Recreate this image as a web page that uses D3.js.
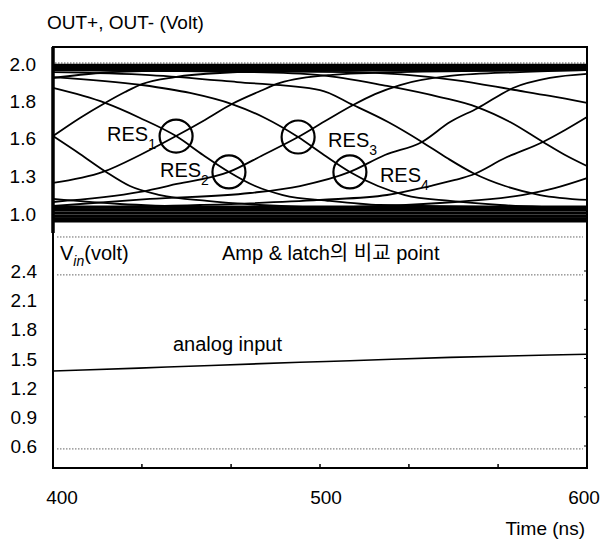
<!DOCTYPE html>
<html>
<head>
<meta charset="utf-8">
<script src="https://cdn.jsdelivr.net/npm/d3@7"></script>
<style>
  body { margin: 0; background: #fff; }
  svg { display: block; font-family: "Liberation Sans", Arial, "Noto Sans CJK KR", sans-serif; }
</style>
</head>
<body>
<svg id="chart" width="601" height="545"></svg>
<script>
// time axis (ns)
const timeDomain = [400, 600]
const timeTicks = [400, 500, 600]
const timeMinorTicks = [433.3, 466.7, 500, 533.3, 566.7]

// upper panel: OUT+, OUT- (Volt)
const outTicks = [2.0, 1.8, 1.6, 1.3, 1.0]
const outTickLabels = ['2.0', '1.8', '1.6', '1.3', '1.0']

// lower panel: Vin (volt)
const vinTicks = [2.4, 2.1, 1.8, 1.5, 1.2, 0.9, 0.6]
const vinTickLabels = ['2.4', '2.1', '1.8', '1.5', '1.2', '0.9', '0.6']

// falling output traces, [ns, volt]
const fallingTraces = [
    [[400, 1.111], [425.1, 1.071], [455.1, 1.047], [511.2, 1.032], [600, 1.024]],
    [[400, 1.605], [410.1, 1.466], [419.9, 1.324], [428.8, 1.213], [440.1, 1.142], [457.7, 1.095], [477.5, 1.063], [511.2, 1.039], [600, 1.032]],
    [[400, 1.865], [419.5, 1.784], [432.6, 1.703], [446.1, 1.605], [456.2, 1.458], [465.9, 1.324], [475.7, 1.213], [486.1, 1.142], [503.7, 1.095], [522.5, 1.063], [600, 1.039]],
    [[400, 1.924], [433.3, 1.881], [451.3, 1.838], [467.0, 1.778], [479.4, 1.703], [491.8, 1.600], [501.5, 1.458], [511.2, 1.324], [521.7, 1.213], [531.8, 1.142], [548.7, 1.095], [567.4, 1.063], [600, 1.039]],
    [[400, 1.951], [436.3, 1.935], [468.9, 1.897], [500, 1.854], [512.4, 1.773], [525.5, 1.681], [538.2, 1.561], [547.6, 1.434], [557.3, 1.316], [569.3, 1.213], [582.4, 1.142], [600, 1.103]],
    [[400, 1.962], [473.8, 1.951], [500, 1.935], [525.1, 1.876], [544.9, 1.816], [558.8, 1.762], [571.2, 1.681], [583.5, 1.561], [591.8, 1.458], [600, 1.371]],
    [[400, 1.962], [511.2, 1.951], [550.6, 1.908], [573.0, 1.854], [586.1, 1.822], [600, 1.784]]
]

// rising output traces, [ns, volt]
const risingTraces = [
    [[400, 1.919], [417.6, 1.946], [440.1, 1.957], [492.5, 1.962], [600, 1.968]],
    [[400, 1.605], [410.1, 1.703], [419.5, 1.784], [427.0, 1.843], [433.3, 1.886], [445.7, 1.924], [462.5, 1.946], [492.5, 1.957], [600, 1.962]],
    [[400, 1.237], [418.7, 1.324], [432.6, 1.458], [446.1, 1.605], [456.9, 1.692], [467.0, 1.778], [476.8, 1.843], [485.0, 1.892], [503.7, 1.935], [530.0, 1.951], [600, 1.962]],
    [[400, 1.087], [432.6, 1.166], [446.4, 1.229], [465.9, 1.324], [478.7, 1.458], [491.8, 1.600], [502.6, 1.692], [512.4, 1.773], [520.6, 1.832], [530.0, 1.881], [548.7, 1.930], [574.9, 1.951], [600, 1.962]],
    [[400, 1.055], [436.3, 1.111], [473.8, 1.158], [492.5, 1.213], [511.2, 1.324], [524.3, 1.458], [538.2, 1.561], [548.7, 1.681], [559.2, 1.757], [572.3, 1.865], [586.1, 1.919], [600, 1.941]],
    [[400, 1.039], [455.1, 1.063], [500, 1.103], [525.1, 1.142], [541.2, 1.213], [550.6, 1.261], [556.9, 1.300], [569.3, 1.434], [583.5, 1.561], [591.8, 1.638], [600, 1.708]],
    [[400, 1.024], [492.5, 1.039], [550.6, 1.087], [575.7, 1.142], [587.9, 1.197], [600, 1.276]]
]

// settled outputs piling up at the rails
const topRail = [1.989, 1.978, 1.968]
const bottomRail = [1.047, 1.024, 1.0, 0.976, 0.953, 0.937]
const outRefLine = 2.0

// resolution points
const resNames = ['1', '2', '3', '4']
const resTimes = [446.1, 465.9, 491.8, 511.2]
const resVolts = [1.605, 1.324, 1.600, 1.324]

// analog input and comparison levels
const analogInput = [[400, 1.371], [411.2, 1.381], [442.7, 1.412], [492.5, 1.461], [511.2, 1.477], [548.7, 1.512], [586.1, 1.536], [600, 1.543]]
const vinRefLines = [2.75, 2.36, 0.57]

const svg = d3.select('#chart')

const frame = { left: 53, right: 587, top: 47, bottom: 468, split: 225 }

const x = d3.scaleLinear().domain(timeDomain).range([frame.left, frame.right])
const yOut = d3.scaleLinear().domain([1.0, 1.3, 1.6, 1.8, 2.0]).range([213, 175, 137, 100, 63])
const yIn = d3.scaleLinear().domain([0.6, 2.4]).range([446, 271])

const outLine = d3.line().x(d => x(d[0])).y(d => yOut(d[1])).curve(d3.curveMonotoneX)
const inLine = d3.line().x(d => x(d[0])).y(d => yIn(d[1])).curve(d3.curveMonotoneX)

// dotted reference lines
svg.append('line')
    .attr('x1', x(400) + 2).attr('x2', x(600) - 2)
    .attr('y1', yOut(outRefLine)).attr('y2', yOut(outRefLine))
    .attr('stroke', '#555').attr('stroke-width', 1).attr('stroke-dasharray', '1.5,1.5')

svg.selectAll('.vref').data(vinRefLines).join('line')
    .attr('class', 'vref')
    .attr('x1', x(400) + 4).attr('x2', x(600) - 4)
    .attr('y1', d => yIn(d)).attr('y2', d => yIn(d))
    .attr('stroke', '#666').attr('stroke-width', 1).attr('stroke-dasharray', '1.5,1.5')

// rails
const railPts = v => [[timeDomain[0], v], [timeDomain[1], v]]
svg.selectAll('.rail-top').data(topRail).join('path')
    .attr('class', 'rail-top')
    .attr('d', d => outLine(railPts(d)))
    .attr('fill', 'none').attr('stroke', '#000').attr('stroke-width', 2.5)

svg.selectAll('.rail-bottom').data(bottomRail).join('path')
    .attr('class', 'rail-bottom')
    .attr('d', d => outLine(railPts(d)))
    .attr('fill', 'none').attr('stroke', '#000').attr('stroke-width', 3.2)

// output traces
svg.selectAll('.fall').data(fallingTraces).join('path')
    .attr('class', 'fall')
    .attr('d', outLine)
    .attr('fill', 'none').attr('stroke', '#000').attr('stroke-width', 1.8)

svg.selectAll('.rise').data(risingTraces).join('path')
    .attr('class', 'rise')
    .attr('d', outLine)
    .attr('fill', 'none').attr('stroke', '#000').attr('stroke-width', 1.8)

// RES circles and labels
const res = resNames.map((n, i) => ({ n, t: resTimes[i], v: resVolts[i] }))

svg.selectAll('.res-circle').data(res).join('circle')
    .attr('class', 'res-circle')
    .attr('cx', d => x(d.t)).attr('cy', d => yOut(d.v))
    .attr('r', 16.5)
    .attr('fill', 'none').attr('stroke', '#000').attr('stroke-width', 2.2)

const resLabel = svg.selectAll('.res-label').data(res).join('text')
    .attr('class', 'res-label')
    .attr('x', (d, i) => i < 2 ? x(d.t) - 69 : x(d.t) + 30)
    .attr('y', (d, i) => yOut(d.v) + (i < 2 ? 5 : 10))
    .attr('font-size', 20)
    .text('RES')
resLabel.append('tspan')
    .attr('font-size', 14)
    .attr('dy', 8)
    .text(d => d.n)

// analog input
svg.append('path')
    .attr('d', inLine(analogInput))
    .attr('fill', 'none').attr('stroke', '#000').attr('stroke-width', 1.6)

// frame
svg.append('rect')
    .attr('x', frame.left).attr('y', frame.top)
    .attr('width', frame.right - frame.left).attr('height', frame.bottom - frame.top)
    .attr('fill', 'none').attr('stroke', '#000').attr('stroke-width', 2)
svg.append('line')
    .attr('x1', frame.left).attr('x2', frame.left).attr('y1', frame.top).attr('y2', frame.split + 8)
    .attr('stroke', '#000').attr('stroke-width', 3.5)

// bottom axis minor ticks
svg.selectAll('.xtick').data(timeMinorTicks).join('line')
    .attr('class', 'xtick')
    .attr('x1', d => x(d)).attr('x2', d => x(d))
    .attr('y1', frame.bottom).attr('y2', frame.bottom - 4)
    .attr('stroke', '#000').attr('stroke-width', 1.5)

// right side inner ticks on lower panel
svg.selectAll('.rtick').data(vinTicks).join('line')
    .attr('class', 'rtick')
    .attr('x1', frame.right).attr('x2', frame.right - 3)
    .attr('y1', d => yIn(d)).attr('y2', d => yIn(d))
    .attr('stroke', '#000').attr('stroke-width', 1)

// tick labels
svg.selectAll('.ylab-out').data(outTicks).join('text')
    .attr('class', 'ylab-out')
    .attr('x', 36).attr('y', d => yOut(d) + 7.5)
    .attr('text-anchor', 'end').attr('font-size', 19)
    .text((d, i) => outTickLabels[i])

svg.selectAll('.ylab-in').data(vinTicks).join('text')
    .attr('class', 'ylab-in')
    .attr('x', 37).attr('y', d => yIn(d) + 7)
    .attr('text-anchor', 'end').attr('font-size', 19)
    .text((d, i) => vinTickLabels[i])

const xNudge = [9, 6, -3]
svg.selectAll('.xlab').data(timeTicks).join('text')
    .attr('class', 'xlab')
    .attr('x', (d, i) => x(d) + xNudge[i]).attr('y', 504)
    .attr('text-anchor', 'middle').attr('font-size', 19)
    .text(d => d)

// titles and annotations
svg.append('text')
    .attr('x', 47).attr('y', 29).attr('font-size', 19)
    .text('OUT+, OUT- (Volt)')

svg.append('text')
    .attr('x', 585).attr('y', 535).attr('text-anchor', 'end').attr('font-size', 19)
    .text('Time (ns)')

const vin = svg.append('text')
    .attr('x', 60).attr('y', 260).attr('font-size', 20)
    .text('V')
vin.append('tspan').attr('font-size', 14).attr('font-style', 'italic').attr('dy', 6).text('in')
vin.append('tspan').attr('dy', -6).text('(volt)')

svg.append('text')
    .attr('x', 222).attr('y', 260).attr('font-size', 20)
    .text('Amp & latch의 비교 point')

svg.append('text')
    .attr('x', 173).attr('y', 351).attr('font-size', 20)
    .text('analog input')
</script>
</body>
</html>
